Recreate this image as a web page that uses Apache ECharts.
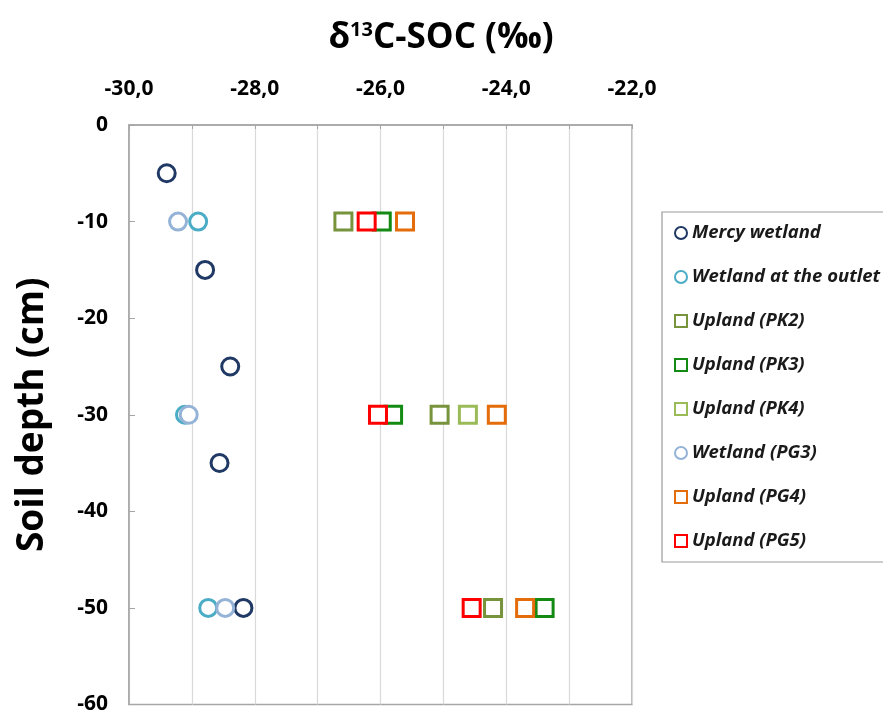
<!DOCTYPE html>
<html>
<head>
<meta charset="utf-8">
<script src="https://cdn.jsdelivr.net/npm/echarts@6/dist/echarts.min.js"></script>
<style>html,body{margin:0;padding:0;background:#fff;}#c{width:883px;height:715px;}</style>
</head>
<body>
<div id="c"></div>
<script>
// Soil depth (cm) and δ13C-SOC (‰) values
const seriesNames = ['Mercy wetland', 'Wetland at the outlet', 'Upland (PK2)', 'Upland (PK3)', 'Upland (PK4)', 'Wetland (PG3)', 'Upland (PG4)', 'Upland (PG5)'];
const mercyDepth = [-5, -15, -25, -35, -50];
const mercyD13C = [-29.40, -28.79, -28.39, -28.56, -28.18];
const outletDepth = [-10, -30, -50];
const outletD13C = [-28.90, -29.11, -28.74];
const pk2Depth = [-10, -30, -50];
const pk2D13C = [-26.59, -25.06, -24.21];
const pk3Depth = [-10, -30, -50];
const pk3D13C = [-25.98, -25.80, -23.39];
const pk4Depth = [-30];
const pk4D13C = [-24.61];
const pg3Depth = [-10, -30, -50];
const pg3D13C = [-29.22, -29.05, -28.47];
const pg4Depth = [-10, -30, -50];
const pg4D13C = [-25.61, -24.15, -23.70];
const pg5Depth = [-10, -30, -50];
const pg5D13C = [-26.22, -26.04, -24.55];

const colors = ['#1f3864', '#4bacc6', '#77933c', '#138a13', '#9bbb59', '#95b3d7', '#e46c0a', '#ff0000'];
const symbols = ['circle', 'circle', 'rect', 'rect', 'rect', 'circle', 'rect', 'rect'];
const depths = [mercyDepth, outletDepth, pk2Depth, pk3Depth, pk4Depth, pg3Depth, pg4Depth, pg5Depth];
const values = [mercyD13C, outletD13C, pk2D13C, pk3D13C, pk4D13C, pg3D13C, pg4D13C, pg5D13C];

const chart = echarts.init(document.getElementById('c'));
const FONT = 'Open Sans';
const series = seriesNames.map((name, i) => ({
  name: name,
  type: 'scatter',
  symbol: symbols[i],
  symbolSize: 17,
  data: values[i].map((v, j) => [v, depths[i][j]]),
  itemStyle: { color: '#ffffff', borderColor: colors[i], borderWidth: 3, opacity: 1 },
  emphasis: { disabled: true },
  z: 2 + i
}));

chart.setOption({
  animation: false,
  backgroundColor: '#ffffff',
  title: {
    text: '{a|δ}{s|13}{a|C-SOC (‰)}',
    left: 436,
    textAlign: 'center',
    top: 15,
    textStyle: {
      rich: {
        a: { fontFamily: FONT, fontWeight: 'bold', fontSize: 35, color: '#000' },
        s: { fontFamily: FONT, fontWeight: 'bold', fontSize: 20, color: '#000', verticalAlign: 'top', padding: [0, 0, 16, 0] }
      }
    }
  },
  grid: { left: 129, top: 125, width: 503, height: 580, show: true, borderColor: '#a6a6a6', borderWidth: 1.5, backgroundColor: 'transparent' },
  legend: {
    orient: 'vertical',
    left: 662,
    top: 212,
    padding: [11, 40, 11, 12],
    itemWidth: 12,
    itemHeight: 12,
    itemGap: 24,
    borderColor: '#9a9a9a',
    borderWidth: 1.2,
    borderRadius: 0,
    data: seriesNames,
    itemStyle: { borderWidth: 2 },
    textStyle: { fontFamily: FONT, fontWeight: 'bold', fontStyle: 'italic', fontSize: 18.5, color: '#1a1a1a', lineHeight: 20 }
  },
  xAxis: {
    type: 'value',
    position: 'top',
    min: -30,
    max: -22,
    interval: 1,
    axisLine: { show: true, lineStyle: { color: '#a6a6a6', width: 1.5 } },
    axisTick: { show: true, inside: true, length: 4, lineStyle: { color: '#a6a6a6' } },
    splitLine: { show: true, lineStyle: { color: '#d9d9d9', width: 1.2 } },
    axisLabel: {
      margin: 25,
      fontFamily: FONT, fontWeight: 'bold', fontSize: 21, color: '#000',
      formatter: v => (Math.round(v) % 2 === 0 ? v.toFixed(1).replace('.', ',') : '')
    }
  },
  yAxis: {
    type: 'value',
    min: -60,
    max: 0,
    interval: 10,
    name: 'Soil depth (cm)',
    nameLocation: 'middle',
    nameGap: 78,
    nameTextStyle: { fontFamily: FONT, fontWeight: 'bold', fontSize: 37, color: '#000' },
    axisLine: { show: true, lineStyle: { color: '#a6a6a6', width: 1.5 } },
    axisTick: { show: true, inside: true, length: 6, lineStyle: { color: '#a6a6a6' } },
    splitLine: { show: false },
    axisLabel: { margin: 21, fontFamily: FONT, fontWeight: 'bold', fontSize: 21, color: '#000' }
  },
  series: series
});
</script>
</body>
</html>
